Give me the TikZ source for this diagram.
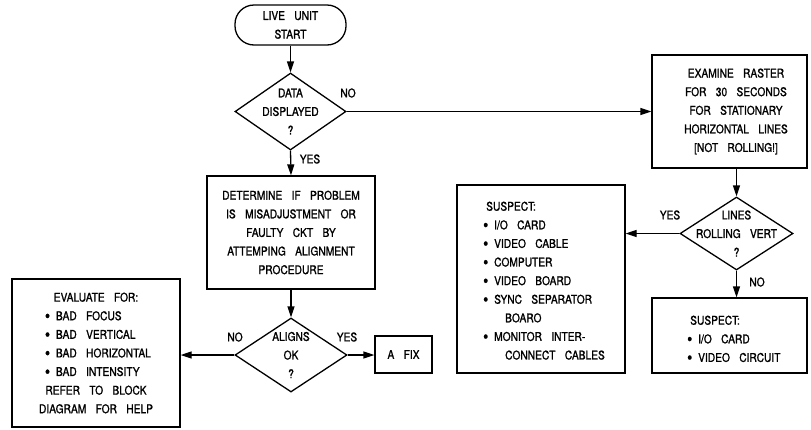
\documentclass[tikz,border=0pt]{standalone}
\usepackage{fontspec}
\setmainfont{TeX Gyre Heros}[FakeStretch=0.85, WordSpace=3.3, FakeBold=1.2]
\usetikzlibrary{shapes.geometric, arrows.meta}

% bullet with a fixed-width slot, used in the item lists
\newcommand\bul{\makebox[11pt][l]{\raisebox{-1.6pt}{\fontsize{17}{17}\selectfont•}}}

\tikzset{
  every node/.style={font=\fontsize{12}{18.6}\selectfont, inner sep=0pt},
  box/.style={draw, line width=1.3pt, rectangle, align=center},
  dec/.style={draw, line width=1.3pt, diamond},
  link/.style={line width=1.3pt, -{Triangle[length=11pt, width=7pt]}},
  tag/.style={align=center},
}

\begin{document}
\begin{tikzpicture}[x=1pt, y=-1pt]
\useasboundingbox (0,0) rectangle (811,429);

% start terminator
\node[box, rounded corners=19pt, minimum width=111pt, minimum height=40pt]
  (start) at (290.5,25) {LIVE UNIT\\START};

% first decision
\node[dec, minimum width=111pt, minimum height=77pt,
  label={[tag]center:DATA\\DISPLAYED\\?}] (d1) at (290.5,111.5) {};

% alignment procedure
\node[box, minimum width=168pt, minimum height=113pt] (det) at (291,232.5)
  {DETERMINE IF PROBLEM\\IS MISADJUSTMENT OR\\FAULTY CKT BY\\ATTEMPING ALIGNMENT\\PROCEDURE};

% alignment decision
\node[dec, minimum width=112pt, minimum height=74pt,
  label={[tag]center:ALIGNS\\OK\\?}] (d2) at (291,355) {};

\node[box, minimum width=57pt, minimum height=37pt] (fix) at (403.5,354.5) {A FIX};

\node[box, minimum width=168pt, minimum height=148pt] (eval) at (96,353)
  {EVALUATE FOR:\\
   \makebox[102pt][l]{\bul BAD FOCUS}\\
   \makebox[102pt][l]{\bul BAD VERTICAL}\\
   \makebox[102pt][l]{\bul BAD HORIZONTAL}\\
   \makebox[102pt][l]{\bul BAD INTENSITY}\\
   REFER TO BLOCK\\DIAGRAM FOR HELP};

% raster check
\node[box, minimum width=155pt, minimum height=113pt,
  label={[tag, xshift=6.5pt]center:EXAMINE RASTER\\FOR 30 SECONDS\\FOR STATIONARY\\HORIZONTAL LINES\\{[}NOT ROLLING!{]}}]
  (exam) at (729.5,111.5) {};

\node[dec, minimum width=113pt, minimum height=73pt,
  label={[tag]center:LINES\\ROLLING VERT\\?}] (d3) at (736.5,233.5) {};

% suspect lists
\node[box, minimum width=168pt, minimum height=188pt] (sus1) at (541,279) {};
\node[align=left, anchor=north west] (sus1t) at (483,201.5)
  {\hspace*{3pt}SUSPECT:\\
   \bul I/O CARD\\
   \bul VIDEO CABLE\\
   \bul COMPUTER\\
   \bul VIDEO BOARD\\
   \bul SYNC SEPARATOR\\
   \hspace*{22pt}BOARO\\
   \bul MONITOR INTER-\\
   \hspace*{22pt}CONNECT CABLES};

\node[box, minimum width=155pt, minimum height=75pt] (sus2) at (729.5,335.5) {};
\node[align=left, anchor=north west] (sus2t) at (687,315.5)
  {\hspace*{3pt}SUSPECT:\\
   \bul I/O CARD\\
   \bul VIDEO CIRCUIT};

% connectors
\draw[link] (start) -- (d1);
\draw[link] (d1.east) -- (exam.west);
\draw[link] (d1.south) -- (det.north);
\draw[link] (det.south) -- (d2.north);
\draw[link] (d2.east) -- (d2.east -| fix.west);
\draw[link] (d2.west) -- (d2.west -| eval.east);
\draw[link] (exam.south -| d3.north) -- (d3.north);
\draw[link] (d3.west) -- (d3.west -| sus1.east);
\draw[link] (d3.south) -- (d3.south |- sus2.north);

% branch labels
\node (no1) at (348,93) {NO};
\node (yes1) at (310,159) {YES};
\node (no2) at (235,337) {NO};
\node (yes2) at (347,337) {YES};
\node (yes3) at (670,215) {YES};
\node (no3) at (757,282) {NO};
\end{tikzpicture}
\end{document}
